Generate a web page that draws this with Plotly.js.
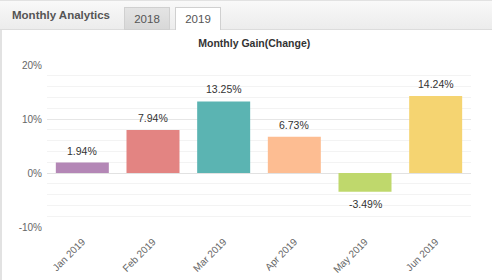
<!DOCTYPE html>
<html>
<head>
<meta charset="utf-8">
<script src="https://cdn.plot.ly/plotly-3.0.1.min.js"></script>
<style>
  html, body { margin: 0; padding: 0; background: #fff; }
  #wrap { position: relative; width: 493px; height: 280px; overflow: hidden; }
  #chart { position: absolute; left: 0; top: 0; width: 493px; height: 280px; }
  #leftborder { position: absolute; left: 0; top: 0; width: 2px; height: 280px; background: #e2e2e2; }
  #header { position: absolute; left: 0; top: 0; width: 492px; height: 28px;
    background: linear-gradient(#f9f9f9, #ececec); border-top: 1px solid #e2e2e2; border-bottom: 1px solid #dcdcdc;
    font-family: "Liberation Sans", Arial, sans-serif; }
  #htitle { position: absolute; left: 12px; top: 8px; font-size: 11.5px; font-weight: bold; color: #555; }
  .tab { position: absolute; top: 6px; width: 44px; height: 21px; border: 1px solid #d0d0d0; box-sizing: content-box;
    font-size: 11.5px; color: #555; text-align: center; line-height: 23px; }
  #tab2018 { left: 124px; background: linear-gradient(#e4e4e4, #d8d8d8); }
  #tab2019 { left: 175px; background: #fff; border-bottom: none; height: 22px; }
</style>
</head>
<body>
<div id="wrap">
  <div id="chart"></div>
  <div id="leftborder"></div>
  <div id="header">
    <div id="htitle">Monthly Analytics</div>
    <div class="tab" id="tab2018">2018</div>
    <div class="tab" id="tab2019">2019</div>
  </div>
</div>
<script>
const months = ["Jan 2019", "Feb 2019", "Mar 2019", "Apr 2019", "May 2019", "Jun 2019"];
const gains = [1.94, 7.94, 13.25, 6.73, -3.49, 14.24];
const barColors = ["#b487b6", "#e38482", "#5bb4b2", "#fdbd92", "#bfd86c", "#f5d471"];
const yTickVals = [-10, 0, 10, 20];
const yTickText = ["-10%", "0%", "10%", "20%"];
const majorGridVals = [10, 20];

const FONT = "Liberation Sans, Arial, sans-serif";

const bars = {
  type: "bar",
  x: months,
  y: gains,
  marker: { color: barColors, line: { width: 0 } },
  hoverinfo: "none"
};

// empty helper trace so the overlay axis (major gridlines) is drawn
const gridHelper = { type: "scatter", x: [], y: [], yaxis: "y2", hoverinfo: "none", showlegend: false };

const labels = months.map((m, i) => ({
  x: m,
  y: gains[i],
  xref: "x",
  yref: "y",
  text: gains[i].toFixed(2) + "%",
  showarrow: false,
  yanchor: gains[i] >= 0 ? "bottom" : "top",
  yshift: gains[i] >= 0 ? 4 : -4,
  font: { family: FONT, size: 10.5, color: "#333" }
}));

const layout = {
  width: 493,
  height: 280,
  margin: { l: 47, r: 22, t: 65, b: 53 },
  paper_bgcolor: "#fff",
  plot_bgcolor: "#fff",
  showlegend: false,
  bargap: 0.25,
  title: {
    text: "Monthly Gain(Change)",
    font: { family: FONT, size: 10.5, color: "#333", weight: "bold" },
    x: 241 / 493, xref: "paper", xanchor: "center",
    y: 1 - 43 / 280, yref: "container", yanchor: "middle"
  },
  xaxis: {
    type: "category",
    tickangle: -45,
    tickfont: { family: FONT, size: 10, color: "#666" },
    showgrid: false,
    showline: false,
    ticks: "",
    ticklabelstandoff: 6
  },
  yaxis: {
    range: [-10, 20],
    tickvals: yTickVals,
    ticktext: yTickText,
    tickfont: { family: FONT, size: 10, color: "#666" },
    showgrid: false,
    minor: { dtick: 2, tick0: 0, showgrid: true, gridcolor: "#f3f3f3" },
    zeroline: true,
    zerolinecolor: "#e2e2e2",
    zerolinewidth: 1,
    ticks: "",
    ticklabelstandoff: 4,
    fixedrange: true
  },
  yaxis2: {
    overlaying: "y",
    range: [-10, 20],
    tickvals: majorGridVals,
    showticklabels: false,
    showgrid: true,
    gridcolor: "#e6e6e6",
    zeroline: false,
    ticks: "",
    fixedrange: true
  },
  annotations: labels
};

Plotly.newPlot("chart", [gridHelper, bars], layout, { displayModeBar: false, staticPlot: true });
</script>
</body>
</html>
